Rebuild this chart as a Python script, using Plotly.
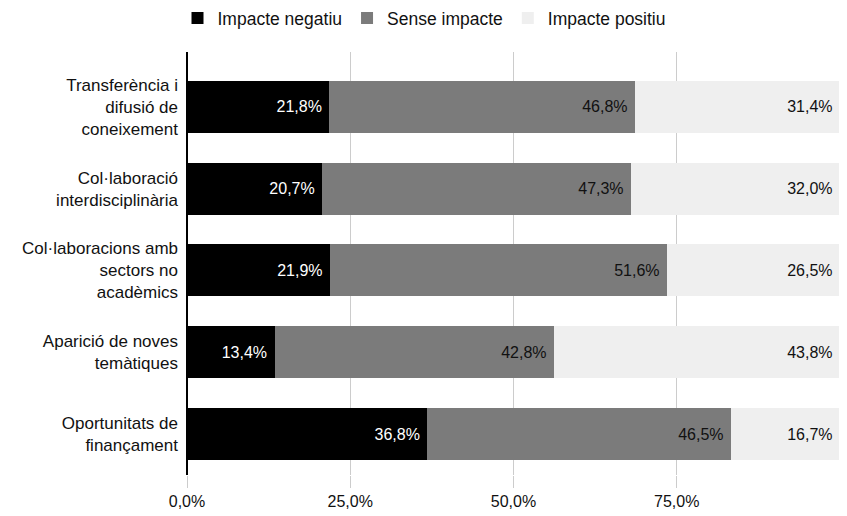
import plotly.graph_objects as go

categories = [
    "Transferència i<br>difusió de<br>coneixement",
    "Col·laboració<br>interdisciplinària",
    "Col·laboracions amb<br>sectors no<br>acadèmics",
    "Aparició de noves<br>temàtiques",
    "Oportunitats de<br>finançament",
]
negatiu = [21.8, 20.7, 21.9, 13.4, 36.8]
sense = [46.8, 47.3, 51.6, 42.8, 46.5]
positiu = [31.4, 32.0, 26.5, 43.8, 16.7]
series_names = ["Impacte negatiu", "Sense impacte", "Impacte positiu"]
tick_vals = [0, 25, 50, 75]
tick_text = ["0,0%", "25,0%", "50,0%", "75,0%"]

font_family = "Liberation Sans, Arial, sans-serif"

fig = go.Figure()
specs = [
    (negatiu, "#000000", "#ffffff"),
    (sense, "#7b7b7b", "#111111"),
    (positiu, "#efefef", "#111111"),
]
for name, (vals, color, tcolor) in zip(series_names, specs):
    fig.add_trace(go.Bar(
        y=categories, x=vals, name=name, orientation="h",
        marker=dict(color=color, line=dict(width=0)),
        texttemplate="%{x:.1f}% ", textposition="inside",
        insidetextanchor="end",
        textfont=dict(color=tcolor, size=16, family=font_family),
        hoverinfo="skip",
    ))

fig.update_layout(
    barmode="stack",
    bargap=0.364,
    width=832, height=508,
    margin=dict(l=179, r=0, t=44, b=41),
    paper_bgcolor="white",
    plot_bgcolor="white",
    separators=",.",
    font=dict(family=font_family, size=16, color="#111111"),
    uniformtext=dict(mode=False),
    legend=dict(
        orientation="h", xref="container", yref="container",
        x=0.5, xanchor="center", y=0.98, yanchor="middle",
        font=dict(size=17.5, color="#111111"),
        traceorder="normal",
    ),
    xaxis=dict(
        range=[0, 100], tickvals=tick_vals, ticktext=tick_text,
        showgrid=True, gridcolor="#cccccc", gridwidth=1,
        zeroline=True, zerolinecolor="#000000", zerolinewidth=1.5,
        ticks="outside", ticklen=12, tickcolor="#cccccc",
        showline=False, tickfont=dict(size=16, color="#111111"),
    ),
    yaxis=dict(
        categoryorder="array", categoryarray=categories,
        range=[4.5, -0.67], showgrid=False, zeroline=False,
        showline=False, ticks="", ticklabelstandoff=8,
        tickfont=dict(size=17, color="#111111"),
    ),
)

fig.write_html("out.html")
